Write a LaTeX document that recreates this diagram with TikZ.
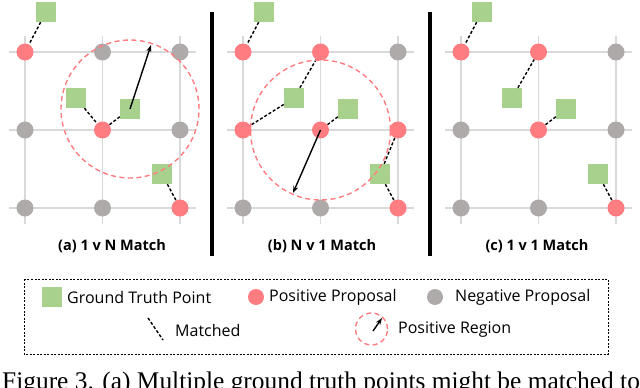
\documentclass[tikz,border=0pt]{standalone}
\usepackage{fontspec}
\setmainfont{Open Sans}
\newfontfamily\capfont{Liberation Serif}
\usetikzlibrary{arrows.meta}
\definecolor{gtgreen}{HTML}{A9D18E}
\definecolor{posred}{HTML}{FF7C80}
\definecolor{neggray}{HTML}{AEAAAA}
\definecolor{gridgray}{HTML}{D9D9D9}

\begin{document}
\begin{tikzpicture}[x=1pt,y=-1pt,
  gt/.style={fill=gtgreen,minimum size=20pt,inner sep=0pt},
  dot/.style={circle,minimum size=17pt,inner sep=0pt},
  matched/.style={dash pattern=on 3pt off 2pt,line width=1.4pt},
  region/.style={dash pattern=on 5pt off 3.5pt,draw=posred,line width=1.4pt},
  push/.style={-{Stealth[length=7pt,width=5pt]},line width=1.4pt},
  sub/.style={font=\bfseries\fontsize{14.5}{16}\selectfont},
  leg/.style={anchor=west,inner sep=0pt,font=\fontsize{16}{18}\selectfont}]
\useasboundingbox (0,0) rectangle (640,388);
% grids and ground truth points, same in all three panels
\foreach \p/\x in {a/25,b/243,c/461}{
  \foreach \i in {0,1,2}{
    \draw[gridgray,line width=1.3pt] (\x-16,52+78*\i) -- (\x+171,52+78*\i);
    \draw[gridgray,line width=1.3pt] (\x+77.5*\i,36) -- (\x+77.5*\i,224);
  }
  \node[gt] (\p-g1) at (\x+21,12) {};
  \node[gt] (\p-g2) at (\x+51,98) {};
  \node[gt] (\p-g3) at (\x+105,109) {};
  \node[gt] (\p-g4) at (\x+137,174) {};
}
% proposals
\foreach \i/\j/\c in {0/0/posred,1/0/neggray,2/0/neggray,0/1/neggray,1/1/posred,2/1/neggray,0/2/neggray,1/2/neggray,2/2/posred}
  \node[dot,fill=\c] (a\i\j) at (25+77.5*\i,52+78*\j) {};
\foreach \i/\j/\c in {0/0/posred,1/0/posred,2/0/neggray,0/1/posred,1/1/posred,2/1/posred,0/2/neggray,1/2/neggray,2/2/posred}
  \node[dot,fill=\c] (b\i\j) at (243+77.5*\i,52+78*\j) {};
\foreach \i/\j/\c in {0/0/posred,1/0/posred,2/0/neggray,0/1/neggray,1/1/posred,2/1/neggray,0/2/neggray,1/2/neggray,2/2/posred}
  \node[dot,fill=\c] (c\i\j) at (461+77.5*\i,52+78*\j) {};
% matches
\draw[matched] (a-g1) -- (a00); \draw[matched] (a-g2) -- (a11);
\draw[matched] (a-g3) -- (a11); \draw[matched] (a-g4) -- (a22);
\draw[matched] (b-g1) -- (b00); \draw[matched] (b-g2) -- (b10);
\draw[matched] (b-g2) -- (b01); \draw[matched] (b-g3) -- (b11);
\draw[matched] (b-g4) -- (b21); \draw[matched] (b-g4) -- (b22);
\draw[matched] (c-g1) -- (c00); \draw[matched] (c-g2) -- (c10);
\draw[matched] (c-g3) -- (c11); \draw[matched] (c-g4) -- (c22);
% positive regions
\draw[region] (a-g3.center) circle[radius=69pt];
\coordinate (a-tip) at (151,45);
\draw[push] (a-g3.center) -- (a-tip);
\draw[region] (b11.center) circle[radius=70pt];
\coordinate (b-tip) at (293,193);
\draw[push] (b11.center) -- (b-tip);
% separators and titles
\draw[line width=4pt] (212,12) -- (212,256);
\draw[line width=4pt] (430,12) -- (430,256);
\node[sub] (ta) at (112,246) {(a) 1 v N Match};
\node[sub] (tb) at (322,246) {(b) N v 1 Match};
\node[sub] (tc) at (537,246) {(c) 1 v 1 Match};
% legend
\draw[dash pattern=on 2pt off 1.5pt,line width=0.7pt] (24,279) rectangle (608,354);
\node[gt] (l-gt) at (52,297) {};
\node[leg] (lt-gt) at (67,297) {Ground Truth Point};
\node[dot,minimum size=16pt,fill=posred] (l-pos) at (256,297) {};
\node[leg] (lt-pos) at (269,297) {Positive Proposal};
\node[dot,minimum size=16pt,fill=neggray] (l-neg) at (435,297) {};
\node[leg] (lt-neg) at (455,297) {Negative Proposal};
\coordinate (lm1) at (148,318); \coordinate (lm2) at (163,340);
\draw[matched] (lm1) -- (lm2);
\node[leg] (lt-m) at (175,330) {Matched};
\node[circle,region,minimum size=32pt,inner sep=0pt] (l-reg) at (371.5,329) {};
\coordinate (lr1) at (373,331); \coordinate (lr2) at (382,318);
\draw[push] (lr1) -- (lr2);
\node[leg] (lt-reg) at (398,330) {Positive Region};
% caption, cut by the page edge
\node[anchor=base west,inner sep=0pt,font=\capfont\fontsize{25.4}{28}\selectfont] (cap) at (2,389) {Figure 3. (a) Multiple ground truth points might be matched to};
\end{tikzpicture}
\end{document}
